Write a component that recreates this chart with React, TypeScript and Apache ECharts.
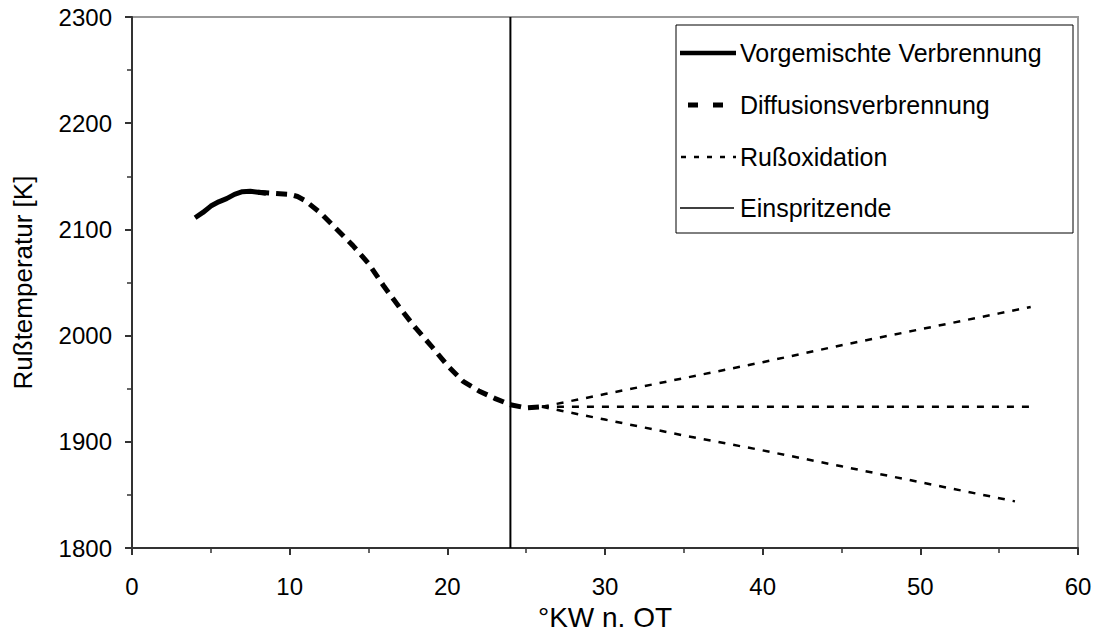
import React, { useEffect, useRef } from "react";
import * as echarts from "echarts";

const premixX = [4, 4.5, 5, 5.5, 6, 6.5, 7, 7.5, 8, 8.5];
const premixY = [2111, 2116, 2122, 2126, 2129, 2133, 2135.5, 2136, 2135, 2134];

const diffX = [8, 9, 10, 10.5, 11, 12, 13, 14, 15, 16, 17, 18, 19, 20, 21, 22, 23, 24, 25, 26];
const diffY = [2135, 2134, 2133, 2131, 2127, 2115, 2100, 2085, 2068, 2046, 2026, 2007, 1990, 1972, 1957, 1948, 1941, 1935, 1932, 1933];

const oxUpX = [26, 30, 35, 40, 45, 50, 55, 57];
const oxUpY = [1933, 1945, 1960, 1975, 1991, 2006, 2021, 2027];
const oxMidX = [26, 30, 40, 50, 57];
const oxMidY = [1933, 1933, 1933, 1933, 1933];
const oxLowX = [26, 30, 35, 40, 45, 50, 56];
const oxLowY = [1933, 1921, 1906, 1892, 1877, 1862, 1844];

const injEndX = [24, 24];
const injEndY = [1800, 2300];

const names = ["Vorgemischte Verbrennung", "Diffusionsverbrennung", "Rußoxidation", "Einspritzende"];

const pair = (xs: number[], ys: number[]) => xs.map((x, i) => [x, ys[i]]);

const FONT = "Liberation Sans";

export default function App() {
  const ref = useRef<HTMLDivElement>(null);
  useEffect(() => {
    if (!ref.current) return;
    const chart = echarts.init(ref.current, undefined, { renderer: "svg" });
    const base = {
      type: "line",
      showSymbol: false,
      symbol: "none",
      silent: true,
      itemStyle: { color: "#000" },
    };
    const legRows = [53, 105, 157, 208];
    const legText = (i: number) => ({
      type: "text",
      x: 740,
      y: legRows[i],
      style: {
        text: names[i],
        fontFamily: FONT,
        fontSize: 25,
        fill: "#000",
        verticalAlign: "middle",
        align: "left",
      },
      z: 20,
    });
    const legLine = (i: number, x1: number, x2: number, style: any) => ({
      type: "line",
      shape: { x1, y1: legRows[i], x2, y2: legRows[i] },
      style: { stroke: "#000", ...style },
      z: 20,
    });
    chart.setOption({
      animation: false,
      backgroundColor: "#ffffff",
      textStyle: { fontFamily: FONT, color: "#000" },
      grid: {
        left: 132,
        right: 18,
        top: 17,
        bottom: 79,
        show: true,
        borderColor: "#999999",
        borderWidth: 2,
      },
      graphic: [
        {
          type: "rect",
          shape: { x: 676, y: 25, width: 397, height: 208 },
          style: { fill: "#fff", stroke: "#000", lineWidth: 1 },
          z: 19,
        },
        legLine(0, 680, 736, { lineWidth: 4.5 }),
        legLine(1, 688, 723, { lineWidth: 5, lineDash: [10, 15] }),
        legLine(2, 681, 736, { lineWidth: 2.5, lineDash: [5, 8] }),
        legLine(3, 680, 734, { lineWidth: 1.5 }),
        legText(0),
        legText(1),
        legText(2),
        legText(3),
      ],
      xAxis: {
        type: "value",
        min: 0,
        max: 60,
        interval: 10,
        name: "°KW n. OT",
        nameLocation: "middle",
        nameGap: 48,
        nameTextStyle: { fontFamily: FONT, fontSize: 28, color: "#000" },
        axisLine: { show: true, onZero: false, lineStyle: { color: "#333", width: 2 } },
        axisTick: { show: true, inside: false, length: 7, lineStyle: { color: "#333", width: 2 } },
        minorTick: { show: true, splitNumber: 2, length: 5, lineStyle: { color: "#333", width: 1.5 } },
        splitLine: { show: false },
        axisLabel: { fontFamily: FONT, fontSize: 24, color: "#000", margin: 26 },
      },
      yAxis: {
        type: "value",
        min: 1800,
        max: 2300,
        interval: 100,
        name: "Rußtemperatur [K]",
        nameLocation: "middle",
        nameGap: 96,
        nameRotate: 90,
        nameTextStyle: { fontFamily: FONT, fontSize: 26, color: "#000" },
        axisLine: { show: true, onZero: false, lineStyle: { color: "#333", width: 2 } },
        axisTick: { show: true, inside: false, length: 7, lineStyle: { color: "#333", width: 2 } },
        minorTick: { show: true, splitNumber: 2, length: 5, lineStyle: { color: "#333", width: 1.5 } },
        splitLine: { show: false },
        axisLabel: {
          fontFamily: FONT,
          fontSize: 24,
          color: "#000",
          margin: 20,
          formatter: (v: number) => String(v),
        },
      },
      series: [
        {
          ...base,
          name: names[3],
          data: pair(injEndX, injEndY),
          lineStyle: { color: "#000", width: 2, type: "solid" },
          z: 1,
        },
        {
          ...base,
          name: names[0],
          data: pair(premixX, premixY),
          lineStyle: { color: "#000", width: 5, type: "solid", cap: "butt" },
          z: 3,
        },
        {
          ...base,
          name: names[1],
          data: pair(diffX, diffY),
          lineStyle: { color: "#000", width: 5, type: [11, 7], cap: "butt" },
          z: 3,
        },
        {
          ...base,
          name: names[2],
          data: pair(oxUpX, oxUpY),
          lineStyle: { color: "#000", width: 2.5, type: [7, 8] },
          z: 2,
        },
        {
          ...base,
          name: names[2],
          data: pair(oxMidX, oxMidY),
          lineStyle: { color: "#000", width: 2.5, type: [7, 8] },
          z: 2,
        },
        {
          ...base,
          name: names[2],
          data: pair(oxLowX, oxLowY),
          lineStyle: { color: "#000", width: 2.5, type: [7, 8] },
          z: 2,
        },
      ],
    });
    return () => chart.dispose();
  }, []);
  return (
    <div
      ref={ref}
      style={{ position: "fixed", left: 0, top: 0, width: 1096, height: 636, background: "#fff" }}
    />
  );
}
